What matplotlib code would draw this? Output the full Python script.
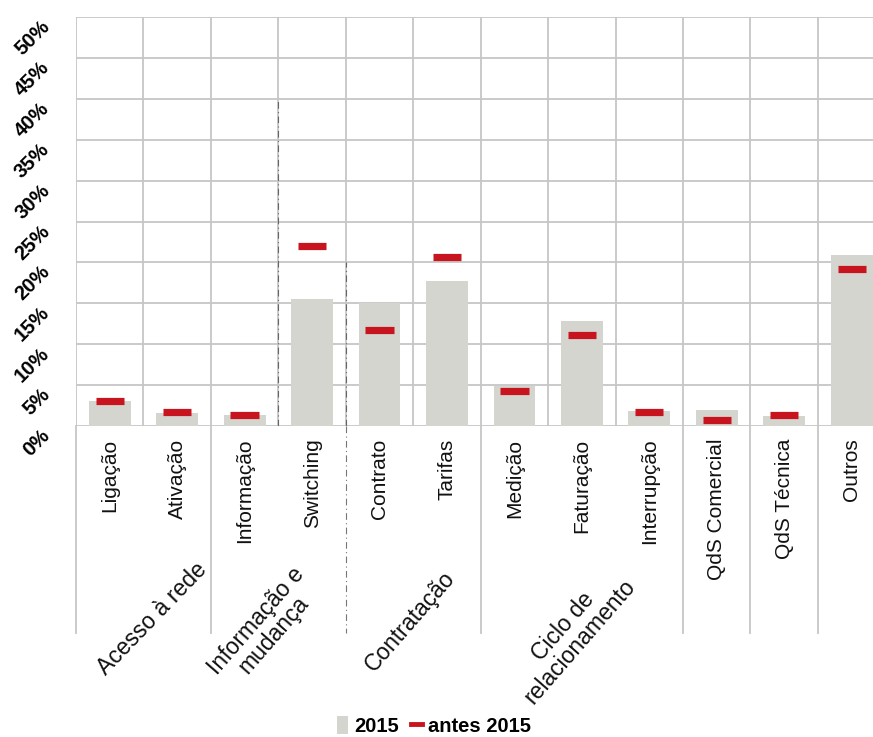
import matplotlib
matplotlib.use("Agg")
import matplotlib.pyplot as plt
from matplotlib.patches import Patch
from matplotlib.lines import Line2D
import numpy as np

categories = ["Ligação", "Ativação", "Informação", "Switching", "Contrato", "Tarifas",
              "Medição", "Faturação", "Interrupção", "QdS Comercial", "QdS Técnica", "Outros"]
values_2015 = [3.1, 1.6, 1.3, 15.5, 15.0, 17.7, 4.9, 12.8, 1.8, 1.9, 1.2, 20.9]
values_antes = [3.0, 1.7, 1.4, 22.0, 11.7, 20.6, 4.3, 11.1, 1.7, 0.7, 1.3, 19.2]
groups = ["Acesso à rede", "Informação e\nmudança", "Contratação", "Ciclo de\nrelacionamento"]
group_spans = [(0, 1), (2, 3), (4, 5), (6, 8)]
yticks = [0, 5, 10, 15, 20, 25, 30, 35, 40, 45, 50]
ytick_labels = [f"{v}%" for v in yticks]
legend_labels = ["2015", "antes 2015"]

W, H = 873, 737
fig = plt.figure(figsize=(W / 100, H / 100), dpi=100)
ax = fig.add_axes([76 / W, 1 - 426 / H, (885.4 - 76) / W, (426 - 17) / H])

grid_c = "#c6c6c6"
bar_c = "#d5d5d0"
red_c = "#c8141e"
fam = ["Liberation Sans", "DejaVu Sans"]

x = np.arange(len(categories))
ax.set_xlim(-0.5, len(categories) - 0.5)
ax.set_ylim(0, 50)

# grid
for v in yticks:
    ax.axhline(v, color=grid_c, lw=1.3, zorder=0)
for b in np.arange(-0.5, len(categories) + 0.5, 1):
    ax.axvline(b, color=grid_c, lw=1.3, zorder=0)
# faint scan-like dash-dot overlay
ax.plot([2.5, 2.5], [0, 40], color="#666666", lw=0.8, ls=(0, (6, 3, 1, 3)), zorder=0.5)
ax.plot([3.5, 3.5], [0, 20], color="#666666", lw=0.8, ls=(0, (6, 3, 1, 3)), zorder=0.5)

ax.bar(x, values_2015, width=0.62, color=bar_c, zorder=2)
ax.hlines(values_antes, x - 0.21, x + 0.21, color=red_c, lw=5.2, zorder=3)

for s in ax.spines.values():
    s.set_visible(False)

ax.set_xticks(x)
ax.set_xticklabels(categories, rotation=90, fontsize=15, family=fam,
                   va="top", ha="center", color="#111111")
ax.tick_params(axis="x", length=0, pad=9)
ax.set_yticks(yticks)
ax.set_yticklabels(ytick_labels, rotation=45, ha="right", va="top", rotation_mode="anchor",
                   fontsize=14.5, fontweight="bold", family=fam)
ax.tick_params(axis="y", length=0, pad=26)

# separators under the axis
trans = ax.get_xaxis_transform()
ybot = -(633 - 426) / (426 - 17)
for b in [-0.5, 1.5, 3.5, 5.5, 8.5, 9.5, 10.5, 11.5]:
    ls = (0, (6, 3, 1, 3)) if b == 3.5 else "-"
    col = "#777777" if b == 3.5 else grid_c
    ax.plot([b, b], [0, ybot], color=col, lw=1.3 if b != 3.5 else 0.8, ls=ls,
            transform=trans, clip_on=False, zorder=0)

# group labels
gy = [-(619 - 426) / (426 - 17), -(628 - 426) / (426 - 17),
      -(621 - 426) / (426 - 17), -(634 - 426) / (426 - 17)]
gdx = [0.13, -0.2, -0.05, -0.15]
grot = [46, 49, 49, 49]
for name, (a, b), yy, dx, r in zip(groups, group_spans, gy, gdx, grot):
    cx = (a + b) / 2 + dx
    ax.text(cx, yy, name, transform=trans, rotation=r, rotation_mode="anchor",
            ha="center", va="center", multialignment="center", fontsize=16.5,
            family=fam, linespacing=0.95, color="#111111")

handles = [Patch(facecolor=bar_c, edgecolor="none"),
           Line2D([0], [0], color=red_c, lw=3.5)]
fig.legend(handles, legend_labels, loc="center", bbox_to_anchor=(434 / W, 1 - 726 / H),
           ncol=2, frameon=False, handlelength=0.55, handleheight=1.0, handletextpad=0.3,
           columnspacing=0.6, borderpad=0.1,
           prop={"family": fam, "weight": "bold", "size": 14.5})

fig.savefig("out.png", dpi=100)
